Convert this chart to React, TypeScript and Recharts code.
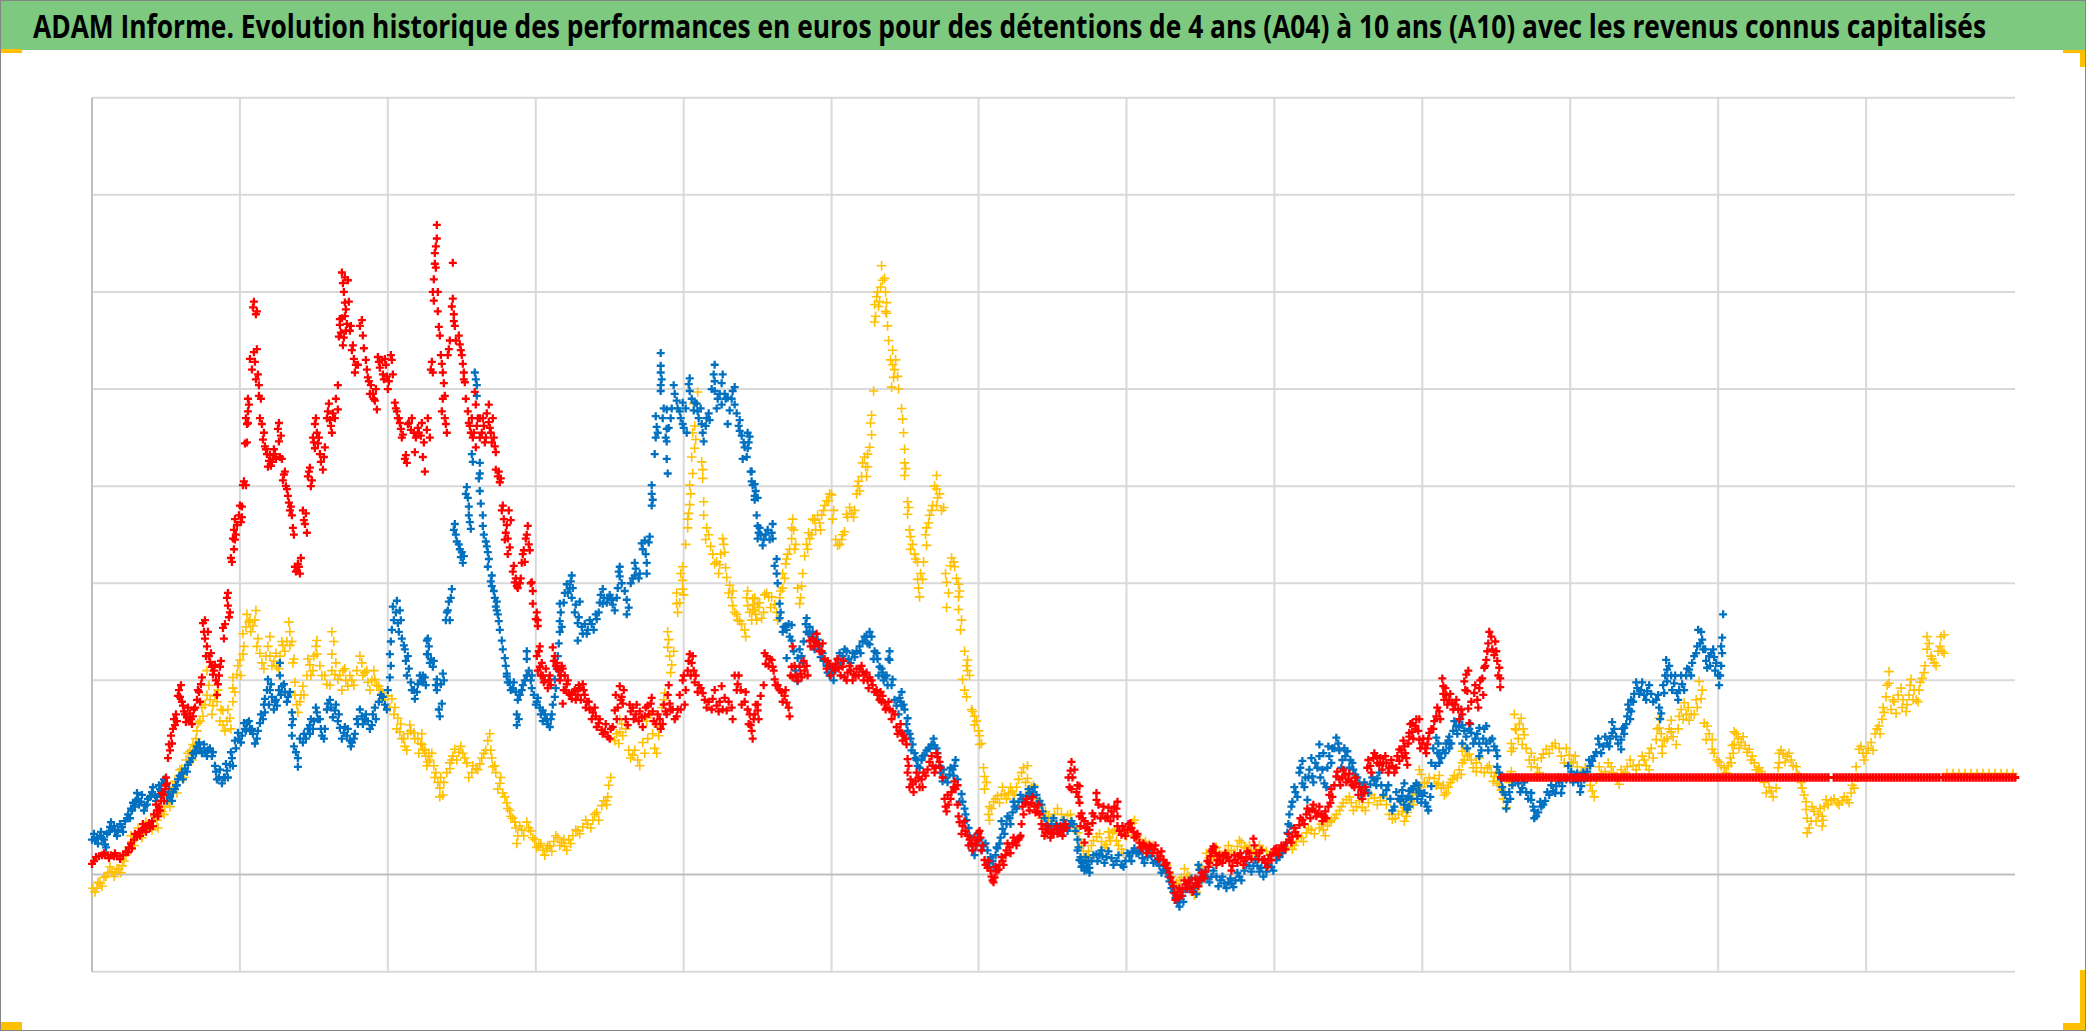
import React from "react";
import { ScatterChart, Scatter, XAxis, YAxis, CartesianGrid, ReferenceLine } from "recharts";

const TITLE = "ADAM Informe. Evolution historique des performances en euros pour des détentions de 4 ans (A04) à 10 ans (A10) avec les revenus connus capitalisés";

const yGrid = [-100, 200, 300, 400, 500, 600, 700, 800];
const xGrid = [148, 296, 444, 592, 740, 887, 1035, 1183, 1331, 1479, 1627, 1775];

const redEarly: number[][] = [
[0,11],[2,14],[4,18],[7,19],[10,20],[13,20],[16,20],[19,20],[22,19],[25,19],[28,19],[31,20],[34,24],[37,28],[39,32],[42,36],[45,39],[47,44],[50,46],[52,48],[55,50],[57,53],[60,55],[62,62],[65,66],[67,70],[69,76],[71,82],[73,88],[75,94],[74,100],
[76,120],[77,134],[79,143],[81,150],[83,154],[84,165],[87,190],[88,183],[91,174],[93,165],[95,162],[97,158],[99,160],[101,163],[103,172],[105,180],[107,188],[109,196],[110,203],[111,259],[113,243],[114,225],[116,250],[118,219],[120,214],[122,210],[124,200],[125,185],[127,205],[128,214],
[131,254],[132,243],[135,285],[136,277],[137,265],[139,326],[141,346],[142,355],[143,366],[144,350],[149,363],[150,379],[151,401],[154,401],[153,444],[155,464],[156,477],[157,484],[154,470],[161,584],[164,577],[158,531],[163,528],[165,541],[166,515],[167,504],[167,493],[170,464],[172,455],[173,441],[175,433],[177,426],[179,421],[181,428],[183,433],[186,459],[187,446],[188,430],[190,428],
[191,406],[193,415],[195,397],[197,383],[199,379],[200,370],[201,357],[203,317],[205,313],[207,317],[209,326],[211,375],[213,361],[215,352],[216,410],[218,419],[220,406],[221,450],[223,439],[223,464],[225,455],[226,444],[228,433],[231,417],[233,440],[236,477],[238,468],[240,455],[243,470],[246,479],[246,504],
[247,554],[248,566],[250,573],[252,553],[255,567],[250,620],[251,609],[252,600],[253,589],[254,582],[258,560],[260,540],[262,531],[263,517],[266,525],[270,571],[271,555],[272,542],[275,520],[277,508],[279,504],[281,495],[283,488],[285,479],[286,533],[288,522],[291,515],[293,531],[295,513],[297,508],[300,530],[303,486],[305,477],[307,470],[309,459],[311,453],[313,428],[315,424],[316,464],[319,458],[322,455],[323,435],[326,460],[329,452],[331,430],[333,415],[335,458],[338,450],
[340,528],[341,517],[342,613],[343,629],[344,647],[345,669],[342,591],[346,580],[347,564],[348,555],[350,526],[351,517],[352,506],[353,493],[350,477],[354,464],[355,455],[361,630],[357,541],[361,593],[362,577],[363,565],[368,546],[370,535],[371,526],[372,517],[373,507],[376,477],[378,462],[381,450],[383,497],[384,484],[385,462],[388,470],[390,455],[392,462],[394,450],[397,466],[399,455],[397,484],[402,450],[403,441],[404,417],[406,410],[408,404],
[410,375],[412,366],[414,352],[416,346],[418,337],[417,375],[421,312],[423,301],[425,297],[428,300],[430,321],[432,334],[434,346],[436,359],[438,334],[440,301],[441,292],[441,279],[444,263],[446,256],[447,230],
[446,210],[448,214],[451,205],[453,200],[456,192],[458,205],[461,234],[462,220],[465,218],[467,210],[469,205],[471,212],[471,176],[472,190],[475,196],[477,187],[480,181],[483,190],[486,185],[488,192],[491,196],[493,185],[495,178],[498,170],[501,167],[504,163],[507,156],[510,149],[513,147],[516,142],[519,150],[523,169],[525,160],[528,194],[530,183],[531,176],[536,154],[539,168],[541,172],[544,165],[547,158],[550,162],[553,163],[556,174],[559,176],[561,168],[564,155],[568,160],[571,155],[574,168],[576,185],[578,176],[581,170],[585,163],[588,185],[591,200],[593,175],[596,210],[598,227],[600,218],[602,210],[603,198],[607,195],[611,187],[615,172],[621,181],[625,174],[628,178],[630,194],[635,169],[640,172],[643,205],[646,196],[649,190],[653,178],[656,170],[658,165],[659,154],[661,140],[666,169],
[663,165],[666,175],[669,184],[673,228],[674,217],[678,222],[680,221],[681,214],[683,201],[686,195],[690,188],[693,184],[695,177],[698,163],[700,214],[701,203],[701,235],[704,205],[708,214],[710,203],[713,210],[716,205],[718,241],[721,243],[724,240],[727,237],[730,230],[733,222],[735,212],[738,217],[741,214],[744,217],[747,212],[751,214],[753,203],[756,208],[759,210],[762,206],[765,212],[768,212],[771,209],[773,206],[776,200],[778,203],[781,195],[783,188],[786,185],[789,188],[791,184],
[793,177],[795,172],[798,170],[801,168],[805,152],[808,148],[810,146],[812,143],[815,134],[816,119],[816,105],[818,90],[821,93],[824,96],[827,100],[830,98],[831,90],[834,102],[838,116],[841,112],[844,110],[846,121],[848,116],[853,78],[855,65],[857,72],[860,85],[863,96],[866,72],[866,92],[868,54],[871,50],[874,45],[876,40],[878,36],[881,25],[884,30],[887,43],[889,38],[891,30],[893,15],[896,7],[899,4],[901,-6],[903,-3],[905,3],[908,10],[911,14],[915,25],[918,28],[921,32],[924,34],[927,36],[928,38],[930,52],[931,70],[934,74],[937,72],[940,74],[943,70],[946,65],[948,62],[951,47],[954,43],[957,45],[960,43],[963,47],[966,42],[969,50],[972,45],[975,48],[978,90],[979,107],[980,116],[981,100],[986,92],[988,74],[990,63],[993,55],[996,52],[998,46],
[988,91],[988,60],[989,50],[993,33],[1001,63],[1001,53],[1005,84],[1005,77],[1011,63],[1014,58],[1017,69],[1020,65],[1023,70],[1026,75],[1026,60],[1026,50],[1030,41],[1033,46],[1036,46],[1039,53],[1042,44],[1045,39],[1048,33],[1051,27],[1054,29],[1057,27],[1060,29],[1063,26],[1066,22],[1069,19],[1072,15],[1075,12],[1078,2],[1081,-8],[1083,-19],[1085,-22],[1087,-24],[1089,-18],[1091,-15],[1094,-10],[1096,-9],[1099,-15],[1102,-12],[1105,-9],[1108,-6],[1111,-2],[1114,3],[1117,8],[1119,19],[1121,26],[1122,29],[1124,22],[1126,15],[1129,14],[1132,19],[1135,17],[1138,14],[1141,9],[1144,15],[1147,19],[1150,17],[1153,14],[1155,18],[1158,22],[1162,37],[1165,22],[1168,22],[1171,15],[1174,12],[1177,15],[1180,15],[1182,22],[1185,27],[1188,25],[1192,27],[1195,33],[1198,36],[1201,39],[1204,44],[1208,51],[1211,56],[1215,62],[1218,65],[1221,67],[1224,65],[1227,63],[1230,62],[1233,60],[1235,58],[1238,82],[1239,74],[1241,80],[1245,101],[1248,98],[1251,100],[1254,103],[1257,98],[1260,96],[1263,90],[1265,94],[1268,90],[1270,87],[1273,84],[1276,110],[1279,112],[1282,120],[1285,122],[1288,113],[1292,115],[1295,115],[1298,110],[1301,112],[1305,110],[1308,117],[1313,132],[1314,125],[1318,142],[1321,147],[1324,153],[1328,160],
[1308,129],[1311,122],[1316,113],[1318,146],[1321,156],[1324,150],[1328,139],[1331,135],[1334,130],[1336,134],[1338,146],[1342,150],[1345,163],[1348,168],[1351,202],[1352,194],[1353,180],[1355,185],[1358,180],[1361,177],[1364,175],[1367,170],[1371,165],[1373,199],[1375,206],[1376,189],[1377,171],[1378,156],[1383,187],[1386,180],[1388,192],[1391,202],[1393,213],[1395,221],[1397,238],[1400,245],[1403,226],[1405,230],[1408,213],[1409,202],[1409,193],
];

const redExtra: number[][] = [
[12,22],[17,17],[23,22],[28,16],[36,23],[40,27],[43,42],[48,40],[51,52],[54,44],[58,48],[61,50],[64,72],[66,60],[68,66],[70,84],[72,76],[74,92],
[78,128],[80,135],[82,160],[85,158],[86,184],[89,195],[90,178],[92,168],[94,157],[96,172],[98,166],[100,155],[102,170],[106,190],[108,178],[112,250],[113,262],[115,235],[117,225],[119,228],[121,206],[123,216],[126,196],[129,220],[133,258],[136,290],[138,270],[140,322],[142,335],[143,345],[145,360],[147,370],[148,380],[150,368],[152,405],[155,445],[156,490],[156,465],[160,520],[162,538],[162,590],[165,580],[164,510],[168,470],[169,490],[171,448],[174,438],[176,420],[178,432],[180,425],[182,438],[184,428],[187,465],[189,452],[192,412],[194,400],[196,390],[198,375],[202,350],[204,312],[206,320],[208,310],[212,365],[214,372],[217,415],[219,400],[222,445],[224,470],[227,450],[229,425],[232,430],[235,470],[237,485],[239,462],[241,475],[244,490],[248,572],[249,558],[251,545],[253,575],[254,560],[256,612],[253,615],[257,590],[259,565],[261,545],[264,525],[268,565],[274,530],[276,512],[278,495],[282,490],[284,500],[287,528],[290,530],[292,510],[294,525],[296,500],[299,535],[301,515],[304,480],[306,470],[308,465],[310,450],[314,432],[317,465],[320,470],[324,450],[327,455],[330,465],[332,445],[336,470],
[339,520],[341,600],[343,640],[345,655],[344,625],[346,600],[349,535],[351,490],[353,470],[356,535],[358,550],[360,585],[362,570],[364,550],[367,555],[369,540],[372,510],
[374,490],[377,465],[379,455],[380,470],[382,455],[384,440],[386,470],[388,450],[391,470],[393,445],[395,475],[398,460],[400,445],[401,470],[404,435],[407,415],[409,408],[411,380],[413,345],[415,360],[419,365],[416,330],[422,318],[424,305],[426,295],[429,305],[431,330],[433,322],[435,350],[437,340],[439,300],[445,270],[446,262],[448,235],[445,225],
[449,205],[450,218],[452,198],[454,212],[457,200],[459,195],[463,225],[464,215],[466,212],[468,200],[470,215],[473,205],[474,190],[476,200],[478,185],[481,188],[484,180],[487,195],[489,180],[492,190],[494,172],[497,178],[500,160],[503,172],[505,152],[508,160],[511,145],[514,155],[518,140],[521,152],[524,185],[526,172],[529,180],[532,190],[534,160],[538,175],[542,160],[545,175],[548,168],[551,152],[554,172],[557,165],[560,182],[562,158],[566,165],[569,150],[572,175],[575,165],[577,195],[579,170],[583,160],[586,170],[589,170],[592,205],[594,190],[597,220],[599,205],[601,225],[604,205],[606,188],[609,192],[613,180],[617,178],[620,170],[623,190],[627,168],[631,170],[633,182],[637,178],[641,160],[645,190],[647,205],[650,175],[654,188],[657,155],[660,148],[662,160],
[664,175],[667,160],[672,195],[675,225],[677,215],[682,210],[684,195],[688,190],[691,178],[694,190],[697,172],[699,205],[703,215],[706,200],[709,207],[712,220],[715,215],[719,235],[722,235],[725,248],[728,230],[731,238],[736,220],[739,205],[743,210],[746,222],[749,205],[752,220],[755,200],[758,215],[761,200],[764,205],[767,205],[770,215],[772,200],[775,208],[777,192],[780,200],[785,190],[788,180],[790,178],
[794,170],[797,178],[800,160],[803,165],[806,145],[809,155],[811,138],[814,140],[817,112],[819,98],[822,85],[825,105],[828,90],[832,105],[836,108],[840,122],[843,105],[845,125],[849,110],[851,100],[854,70],[856,82],[859,78],[862,90],[864,88],[867,60],[870,42],[873,55],[877,30],[880,32],[883,38],[886,35],[888,45],[890,25],[894,10],[897,14],[900,-2],[902,-8],[904,8],[907,5],[910,18],[912,10],[914,20],[916,32],[919,22],[922,38],[925,30],[929,40],[932,62],[935,78],[938,66],[941,80],[944,64],[947,72],[950,52],[953,40],[956,50],[959,38],[962,42],[965,50],[968,44],[971,40],[974,52],[977,100],[980,88],[983,108],[985,85],[987,80],[991,58],[994,48],[997,42],
[1003,60],[1007,72],[1009,58],[1012,70],[1016,60],[1019,55],[1022,60],[1025,68],[1028,45],[1031,50],[1034,40],[1037,52],[1040,48],[1043,38],[1046,42],[1049,28],[1052,32],[1055,22],[1058,30],[1061,22],[1064,30],[1067,16],[1070,24],[1073,10],[1076,7],[1079,-3],[1082,-12],[1084,-26],[1086,-18],[1088,-14],[1090,-22],[1093,-6],[1095,-14],[1098,-6],[1101,-18],[1104,-4],[1107,-12],[1110,2],[1113,-4],[1116,14],[1118,12],[1120,24],[1123,28],[1125,10],[1128,20],[1131,12],[1134,22],[1137,18],[1140,4],[1143,20],[1146,12],[1149,22],[1152,10],[1156,24],[1160,16],[1163,30],[1167,16],[1170,25],[1173,16],[1176,8],[1179,20],[1183,26],[1187,20],[1190,30],[1194,26],[1197,42],[1200,33],[1203,48],[1206,40],[1209,58],[1213,52],[1216,68],[1219,58],[1222,72],[1225,60],[1228,70],[1231,55],[1234,65],[1237,70],[1240,88],[1243,92],[1246,106],[1249,92],[1252,108],[1255,95],[1258,104],[1261,92],[1264,100],[1267,82],[1271,78],[1274,90],[1277,118],[1280,105],[1283,125],[1286,115],[1289,120],[1291,108],[1294,122],[1297,105],[1300,118],[1303,105],[1306,122],[1310,128],[1312,138],[1315,120],[1317,135],[1319,155],[1322,140],[1325,160],[1327,148],[1329,130],[1332,140],[1335,125],[1337,140],[1340,150],[1343,158],[1346,172],[1349,160],[1352,186],[1354,192],[1356,175],[1359,186],[1362,170],[1365,180],[1368,160],[1370,170],[1374,190],[1377,210],[1380,178],[1384,195],[1387,172],[1389,200],[1392,185],[1394,215],[1396,230],[1398,250],[1401,232],[1404,240],[1406,220],[1407,205],
];

const redFlat: number[] = [
1410,1413,1416,1419,1422,1425,1428,1431,1434,1437,1440,1443,1446,1449,1452,1455,1458,1461,1464,1467,1470,1473,1476,1479,1482,1485,1488,1491,1494,1497,1500,1503,1506,1509,1512,1515,1518,1521,1524,1527,1530,1533,1536,1539,1542,1545,1548,1551,1554,1557,1560,1563,1566,1569,1572,1575,1578,1581,1584,1587,1590,1593,1596,1599,1602,1605,1608,1611,1614,1617,1620,1623,1626,1629,1632,1635,1638,1641,1644,1647,1650,1653,1656,1659,1662,1665,1668,1671,1674,1677,1680,1683,1686,1689,1692,1695,1698,1701,1704,1707,1710,1713,1716,1719,1722,1725,1728,1731,1734,1737,
1743,1746,1749,1752,1755,1758,1761,1764,1767,1770,1773,1776,1779,1782,1785,1788,1791,1794,1797,1800,1803,1806,1809,1812,1815,1818,1821,1824,1827,1830,1833,1836,1839,1842,1845,1848,
1852,1855,1858,1861,1864,1867,1870,1873,1876,1879,1882,1885,1888,1891,1894,1897,1900,1903,1906,1909,1912,1915,1918,1921,1924,
];

const blueValues: number[][] = [
[0,36],[3,35],[5,38],[8,40],[10,37],[13,31],[15,42],[18,49],[20,47],[23,45],[26,46],[30,49],[33,55],[36,62],[39,68],[41,74],[44,76],[46,78],[49,75],[53,71],[56,78],[60,85],[63,82],[65,80],[68,88],[70,94],[73,85],[76,82],[78,80],[81,85],[84,92],[86,98],[90,104],[93,109],[96,113],[100,120],[103,127],[105,132],[108,130],[113,127],[116,128],[121,126],[124,106],[127,100],[130,94],[133,100],[135,107],[138,113],[140,120],[143,138],[147,140],[150,143],[153,150],[155,156],[158,150],[161,145],[165,140],[168,156],[171,160],[173,167],[173,181],[176,201],[178,190],[180,183],[183,178],[185,174],[188,205],[188,218],[190,194],[193,188],[196,183],[200,167],[200,154],[200,143],[202,132],[206,120],[206,111],[211,136],[214,140],[218,154],[218,145],[222,158],[225,167],[228,160],[230,143],[233,150],[236,176],[239,172],[243,169],[246,158],[248,151],[252,146],[255,143],[258,138],[260,136],[263,145],[266,155],[270,163],[273,160],[276,158],[280,154],[283,172],[287,178],[291,183],[295,170],[298,203],[298,227],[300,252],[301,276],[304,270],[306,259],[308,272],[310,243],[313,232],[316,225],[315,205],[320,190],[323,181],[326,196],[329,200],[333,203],[335,241],[335,227],
[331,198],[336,227],[336,243],[338,218],[341,214],[345,201],[345,190],[351,207],[350,176],[348,163],[355,270],[357,281],[360,294],[358,262],[363,361],[365,343],[368,335],[370,332],[371,321],[375,399],[376,388],[377,379],[378,363],[380,433],[383,517],[385,504],[385,493],[388,424],[388,413],[388,395],[391,370],[391,359],[394,343],[396,332],[396,317],[400,308],[400,297],[403,285],[405,281],[405,272],[407,261],[410,241],[413,223],[415,207],[415,204],[418,198],[421,192],[424,188],[428,185],[425,165],[425,154],[431,195],[435,205],[435,230],[435,222],[440,205],[440,192],[445,178],[448,172],[451,169],[451,158],[455,160],[458,152],[460,165],[463,183],[463,201],[466,225],[468,250],[468,261],[468,279],[472,280],[475,299],[478,295],[480,308],[480,285],[483,270],[486,259],[488,281],[486,241],[491,248],[496,252],[500,258],[505,263],[508,280],[511,294],[511,279],[516,285],[520,283],[523,272],[526,295],[528,307],[528,317],[535,283],[535,268],[539,300],[543,308],[543,321],[548,310],[555,321],[555,310],[550,341],[553,344],[558,348],[560,401],[560,392],[560,380],[563,433],[564,450],[564,472],[565,461],[569,537],[569,524],[569,517],[569,504],[569,498],[571,470],[575,479],[575,459],[575,446],[575,428],[576,413],[579,470],[582,504],[585,488],[588,477],[591,464],[595,455],[591,486],[598,511],[598,498],[603,486],[606,477],[610,464],[612,446],[615,470],[618,468],[623,525],[623,508],[623,498],[626,490],[630,484],[630,506],[633,495],[636,464],[636,491],[640,490],[643,502],[643,484],[648,468],[648,457],[652,445],[656,455],[656,439],[651,428],[659,415],[661,401],[664,395],[666,388],[666,359],[666,346],
[658,451],[660,415],[663,402],[663,386],[668,357],[671,339],[674,350],[678,345],[681,361],[681,346],[685,325],[685,310],[688,279],[688,264],[691,250],[694,256],[697,258],[700,257],[700,241],[695,223],[706,199],[706,223],[710,225],[712,240],[715,264],[715,250],[718,255],[721,250],[724,240],[727,235],[731,228],[735,215],[738,205],[741,208],[744,214],[748,228],[751,225],[755,230],[759,218],[763,224],[768,235],[771,240],[775,245],[778,250],[778,237],[783,230],[786,222],[788,214],[791,208],[793,203],[796,195],[798,230],[798,221],[801,201],[805,174],[808,182],[810,188],[810,174],[813,170],[816,161],[816,148],[819,140],[821,134],[824,120],[826,112],[830,118],[833,123],[837,130],[840,134],[843,133],[845,130],[848,112],[851,96],[854,100],[858,103],[861,108],[863,112],[866,98],[870,83],[873,68],[875,56],[878,40],[881,25],[885,30],[888,36],[892,30],[896,25],[899,18],[901,14],[904,20],[906,27],[909,38],[911,47],[915,52],[918,58],[921,64],[923,70],[927,75],[931,78],[935,81],[938,84],[941,85],[945,82],[948,76],[951,65],[955,52],[960,52],[965,52],[970,48],[974,50],[978,50],[982,52],[986,25],[986,36],[989,18],[991,9],[995,8],[998,7],
[988,15],[992,12],[996,7],[1000,14],[1005,21],[1008,20],[1011,19],[1015,18],[1020,17],[1025,14],[1030,10],[1034,14],[1038,19],[1041,24],[1043,27],[1047,22],[1051,17],[1056,18],[1060,19],[1064,14],[1068,9],[1072,5],[1075,3],[1078,-7],[1082,-18],[1086,-29],[1089,-25],[1091,-22],[1094,-15],[1098,-9],[1103,-14],[1106,-5],[1108,5],[1112,0],[1116,-3],[1120,-2],[1125,-2],[1129,-6],[1133,-9],[1137,-8],[1140,-9],[1144,-6],[1148,-2],[1153,4],[1158,9],[1162,9],[1166,9],[1170,7],[1175,3],[1180,8],[1185,15],[1188,18],[1191,22],[1196,43],[1198,62],[1199,50],[1201,75],[1204,85],[1208,105],[1211,117],[1211,94],[1214,100],[1216,77],[1218,108],[1221,101],[1224,115],[1228,134],[1228,122],[1231,108],[1233,94],[1236,110],[1238,122],[1241,130],[1245,141],[1248,128],[1251,118],[1254,122],[1256,127],[1259,118],[1261,115],[1264,103],[1268,94],[1271,90],[1275,87],[1279,93],[1283,97],[1286,99],[1290,92],[1295,87],[1299,78],[1303,70],[1307,78],[1311,87],[1315,78],[1318,70],[1323,91],[1328,84],
[1311,81],[1316,67],[1320,78],[1325,94],[1328,86],[1331,81],[1334,74],[1336,70],[1340,91],[1340,115],[1345,141],[1346,125],[1348,125],[1348,115],[1352,128],[1355,135],[1358,142],[1358,130],[1362,148],[1365,153],[1368,152],[1371,154],[1371,135],[1375,142],[1378,150],[1380,146],[1384,140],[1388,151],[1388,135],[1388,122],[1392,140],[1395,153],[1395,135],[1399,138],[1403,132],[1406,122],[1406,111],[1410,98],[1411,90],[1414,82],[1416,75],[1419,78],[1423,98],[1427,94],[1431,89],[1435,85],[1440,84],[1440,77],[1443,58],[1443,66],[1447,64],[1450,70],[1454,76],[1458,82],[1462,86],[1465,91],[1468,95],[1471,91],[1475,98],[1480,106],[1484,102],[1487,96],[1490,91],[1493,98],[1496,106],[1499,112],[1501,117],[1505,126],[1508,134],[1512,132],[1516,135],[1519,140],[1521,146],[1521,157],[1525,142],[1530,139],[1530,129],[1533,145],[1536,163],[1533,151],[1538,170],[1540,180],[1540,168],[1543,186],[1546,192],[1550,190],[1553,185],[1556,189],[1560,186],[1565,180],[1568,172],[1570,166],[1573,187],[1575,221],[1576,211],[1576,199],[1580,205],[1583,197],[1586,187],[1588,190],[1591,196],[1595,205],[1598,211],[1601,218],[1605,228],[1607,252],[1609,238],[1611,242],[1614,232],[1616,213],[1618,225],[1620,228],[1623,224],[1625,218],[1628,195],[1629,205],[1631,228],[1631,244],[1632,268],
];

const blueExtra: number[][] = [
[2,42],[6,32],[9,44],[12,36],[14,28],[17,44],[19,54],[22,50],[25,40],[28,52],[31,44],[35,58],[38,58],[40,66],[43,70],[45,84],[47,72],[50,82],[52,66],[55,72],[58,80],[61,90],[64,76],[67,92],[69,86],[72,98],[75,76],[77,88],[80,76],[83,88],[85,92],[88,102],[91,98],[95,106],[98,116],[101,125],[104,125],[107,136],[110,125],[112,134],[115,122],[118,130],[120,122],[123,112],[125,98],[128,108],[132,100],[134,114],[136,100],[139,126],[141,112],[144,130],[146,146],[149,136],[152,156],[154,148],[157,158],[160,150],[163,135],[166,148],[169,165],[172,175],[175,190],[177,175],[179,196],[182,170],[184,180],[187,190],[189,185],[192,196],[195,178],[198,188],[201,160],[204,126],[208,140],[212,145],[216,150],[219,160],[221,150],[224,172],[226,160],[229,150],[232,140],[235,170],[238,180],[241,162],[244,175],[247,165],[250,140],[253,152],[256,150],[259,132],[262,140],[265,160],[268,170],[271,155],[274,165],[278,150],[281,165],[284,160],[289,185],[293,175],[296,190],[299,215],[299,240],[302,262],[305,282],[307,250],[309,262],[312,236],[314,220],[317,212],[319,198],[322,190],[325,188],[328,205],[331,205],[334,195],[337,235],
[339,222],[342,220],[344,195],[347,170],[349,196],[352,200],[354,262],[356,272],[359,285],[362,355],[364,350],[367,340],[369,327],[372,328],[374,392],[377,370],[379,356],[381,425],[384,510],[387,408],[389,382],[392,350],[395,338],[397,325],[399,302],[402,292],[404,276],[406,268],[408,252],[411,232],[414,215],[416,198],[419,190],[422,198],[426,180],[427,160],[430,190],[433,200],[437,210],[439,200],[442,185],[444,175],[446,182],[449,165],[453,165],[456,155],[459,160],[461,175],[464,192],[465,212],[467,238],[469,270],[470,255],[473,290],[476,290],[479,302],[481,295],[484,278],[487,265],[490,255],[493,258],[495,248],[498,262],[502,252],[504,268],[507,270],[509,288],[512,285],[515,280],[518,288],[521,278],[525,285],[527,312],[530,300],[533,292],[537,275],[541,305],[544,315],[547,305],[551,335],[554,330],[557,342],[561,386],[566,455],[570,510],[572,480],[574,450],[577,460],[580,480],[583,495],[586,480],[589,470],[592,460],[594,480],[597,505],[600,490],[602,478],[605,485],[607,470],[609,480],[611,455],[614,462],[617,475],[620,500],[622,515],[625,480],[628,495],[631,515],[634,490],[638,478],[641,498],[645,475],[647,462],[650,452],[653,440],[655,430],[657,445],[660,405],[663,390],[665,370],
[667,352],[669,350],[672,345],[676,355],[680,352],[683,318],[686,300],[689,270],[692,255],[695,252],[698,245],[702,230],[704,210],[708,232],[711,218],[714,258],[717,248],[720,245],[723,232],[726,242],[729,224],[732,220],[736,208],[739,212],[742,200],[746,222],[749,218],[753,232],[757,222],[761,228],[765,230],[769,228],[773,245],[776,238],[780,245],[782,222],[785,228],[787,205],[790,212],[792,200],[795,205],[797,222],[800,195],[803,180],[807,165],[809,178],[812,175],[815,155],[818,145],[820,128],[823,125],[825,118],[828,110],[831,122],[835,128],[838,130],[842,140],[846,125],[849,105],[852,108],[856,95],[859,110],[862,102],[864,118],[868,75],[871,75],[874,62],[877,48],[880,32],[883,20],[886,42],[890,25],[894,32],[898,12],[902,8],[905,28],[908,32],[910,55],[913,42],[916,60],[919,52],[922,75],[925,68],[929,82],[933,75],[937,88],[940,80],[943,90],[946,72],[950,72],[953,58],[957,48],[962,58],[967,46],[972,56],[976,45],[980,55],[984,45],[987,28],[990,14],[993,4],[997,14],
[990,8],[994,18],[998,2],[1002,20],[1006,14],[1010,25],[1013,12],[1017,24],[1022,10],[1027,20],[1032,8],[1036,22],[1040,14],[1045,22],[1049,24],[1053,12],[1058,25],[1062,12],[1066,14],[1070,2],[1074,10],[1077,-2],[1080,-14],[1084,-24],[1088,-33],[1092,-28],[1096,-15],[1100,-4],[1105,-20],[1107,10],[1110,-6],[1114,3],[1118,-8],[1122,4],[1127,-12],[1131,-2],[1135,-14],[1139,-4],[1142,-13],[1146,2],[1150,-6],[1155,10],[1160,3],[1164,15],[1168,3],[1172,-2],[1177,10],[1182,4],[1187,20],[1193,30],[1197,52],[1200,70],[1203,90],[1206,80],[1209,110],[1213,90],[1217,100],[1220,120],[1222,95],[1226,110],[1229,100],[1232,125],[1235,90],[1237,132],[1240,115],[1243,130],[1247,135],[1250,110],[1253,130],[1258,110],[1262,108],[1266,100],[1270,82],[1273,95],[1277,84],[1281,100],[1285,92],[1288,105],[1292,82],[1297,92],[1301,66],[1305,85],[1309,76],[1313,94],[1317,80],[1320,88],[1326,78],
[1313,72],[1318,86],[1322,88],[1327,92],[1330,74],[1333,84],[1337,66],[1339,80],[1342,130],[1344,112],[1347,135],[1350,120],[1354,125],[1357,138],[1360,135],[1363,158],[1366,145],[1369,160],[1373,148],[1376,130],[1379,155],[1382,135],[1386,145],[1390,128],[1393,150],[1397,128],[1401,140],[1405,128],[1408,105],[1412,85],[1415,68],[1418,85],[1421,92],[1425,100],[1429,85],[1433,95],[1437,78],[1442,70],[1445,60],[1449,75],[1452,72],[1456,85],[1460,92],[1464,84],[1467,100],[1470,84],[1473,100],[1477,112],[1482,95],[1486,104],[1489,85],[1492,105],[1495,100],[1498,118],[1503,122],[1507,140],[1510,125],[1514,142],[1518,132],[1523,150],[1527,135],[1531,150],[1535,155],[1537,175],[1539,160],[1542,178],[1545,198],[1548,186],[1551,198],[1555,180],[1558,195],[1562,178],[1567,185],[1569,160],[1572,195],[1574,205],[1578,215],[1581,190],[1584,205],[1587,180],[1590,205],[1593,190],[1596,212],[1600,205],[1603,225],[1606,235],[1610,250],[1612,232],[1615,220],[1619,215],[1622,232],[1624,210],[1627,205],[1630,215],[1630,235],
];

const yellowValues: number[][] = [
[3,-18],[5,-14],[8,-9],[12,-3],[16,2],[20,3],[23,2],[27,6],[30,9],[34,20],[37,28],[40,34],[44,38],[48,42],[52,45],[57,50],[65,56],[67,60],[70,65],[73,70],[76,74],[80,86],[83,96],[87,102],[90,109],[94,118],[98,127],[101,134],[104,140],[106,156],[111,163],[115,185],[115,210],[118,180],[121,174],[126,190],[129,170],[131,169],[131,154],[135,158],[138,161],[141,178],[141,192],[141,203],[146,215],[148,221],[151,248],[151,227],[155,268],[158,262],[161,256],[164,272],[166,243],[170,218],[174,225],[178,245],[178,225],[182,220],[185,214],[188,225],[191,236],[195,240],[198,250],[198,236],[201,218],[203,198],[203,185],[206,167],[209,185],[211,194],[215,205],[218,216],[221,210],[225,241],[225,227],[230,205],[235,196],[240,250],[240,227],[240,210],[243,206],[246,201],[251,210],[254,200],[256,194],[260,200],[265,210],[270,218],[273,208],[276,198],[280,200],[283,201],[287,194],[291,187],[296,184],[300,181],[303,172],[306,161],[308,147],[310,140],[313,132],[316,145],[318,154],[322,146],[326,140],[329,135],[331,129],[336,116],
[330,134],[334,122],[338,118],[342,112],[344,105],[348,89],[348,80],[352,95],[358,109],[360,118],[363,129],[367,126],[371,125],[375,115],[380,105],[384,109],[388,114],[392,125],[396,138],[399,128],[401,111],[404,105],[408,94],[411,84],[415,74],[418,66],[421,58],[424,48],[426,40],[430,46],[435,54],[439,45],[443,36],[447,30],[451,25],[455,27],[458,29],[462,34],[466,38],[470,33],[473,29],[477,36],[481,40],[486,45],[491,49],[496,52],[501,56],[505,64],[510,71],[514,76],[516,80],[519,100],
[523,138],[528,147],[528,160],[531,143],[537,128],[541,123],[546,118],[551,136],[561,145],[555,158],[565,125],[567,143],[570,172],[573,187],[576,250],[576,234],[580,216],[578,225],[585,290],[585,279],[588,280],[591,317],[591,294],[591,303],[596,366],[596,357],[598,381],[598,401],[601,413],[601,455],[603,462],[603,439],[606,497],[611,417],[611,408],[612,384],[615,357],[617,350],[621,330],[625,322],[628,319],[631,346],[633,332],[635,306],[638,298],[641,292],[641,277],[645,268],[648,261],[653,252],[656,292],[656,277],[663,285],[663,272],[660,262],[666,280],
[661,284],[661,273],[664,268],[670,264],[673,288],[677,286],[680,286],[685,270],[688,285],[691,295],[691,310],[694,320],[696,330],[700,346],[700,357],[701,366],[703,335],[708,279],[710,297],[713,328],[716,335],[718,346],[721,366],[724,355],[728,362],[730,370],[733,380],[737,385],[740,391],[741,366],[746,339],[750,345],[753,353],[755,371],[760,372],[763,375],[766,400],[768,395],[771,424],[774,420],[776,433],[776,420],[780,453],[780,473],[782,498],[783,587],[783,569],[786,600],[788,590],[790,627],[793,614],[795,589],[795,578],[796,565],[801,540],[801,525],[800,502],[803,520],[806,513],[811,469],[813,438],[813,424],[813,411],[816,384],[816,371],[819,348],[819,335],[823,330],[826,322],[826,304],[828,286],[831,304],[835,339],[835,357],[838,370],[841,380],[845,411],[845,397],[845,380],[850,375],[855,301],[855,275],[860,326],[863,317],[867,299],[867,286],[867,273],[869,252],[876,221],[876,210],[871,201],[873,190],[875,183],[880,170],[883,163],[883,154],[888,143],[888,134],[893,101],[893,88],[898,70],[898,56],[902,75],[906,81],[910,82],[913,83],[917,84],[921,85],[925,90],[930,105],[936,112],[936,99],[940,90],[945,78],[948,70],[951,63],[957,60],[963,62],[970,62],[976,61],[981,52],[986,43],[990,30],[995,18],
[995,19],[1000,30],[1005,39],[1010,34],[1015,31],[1018,38],[1021,43],[1025,35],[1030,26],[1035,40],[1041,53],[1046,40],[1050,32],[1058,31],[1066,22],[1075,10],[1080,-2],[1085,-9],[1090,-3],[1096,0],[1100,-10],[1103,-21],[1108,-8],[1112,5],[1118,17],[1123,20],[1128,22],[1134,24],[1140,25],[1146,29],[1150,33],[1155,27],[1160,24],[1165,25],[1171,26],[1180,22],[1190,24],[1201,26],[1205,34],[1210,38],[1215,43],[1220,46],[1228,48],[1232,46],[1236,50],[1240,56],[1245,62],[1250,70],[1255,77],[1260,74],[1265,70],[1271,69],[1277,74],[1283,79],[1289,76],[1295,72],[1301,57],[1307,62],[1313,69],[1319,76],[1325,82],
[1311,65],[1315,60],[1320,75],[1325,88],[1330,103],[1330,90],[1336,94],[1343,99],[1347,94],[1350,89],[1353,82],[1357,90],[1361,98],[1366,100],[1370,103],[1371,115],[1371,127],[1376,122],[1380,118],[1385,115],[1385,106],[1390,110],[1396,110],[1400,105],[1403,101],[1406,94],[1410,87],[1415,69],[1420,106],[1420,127],[1420,135],[1423,165],[1425,149],[1427,140],[1430,161],[1433,144],[1431,134],[1440,125],[1440,111],[1446,110],[1450,120],[1455,129],[1461,132],[1468,130],[1473,115],[1478,123],[1482,116],[1486,111],[1492,106],[1496,100],[1501,86],[1505,98],[1508,111],[1514,106],[1520,111],[1525,100],[1528,93],[1532,102],[1536,111],[1542,112],[1548,113],[1553,118],[1558,125],[1558,108],[1565,139],[1568,161],[1568,151],[1571,132],[1571,125],[1576,140],[1580,159],[1580,147],[1585,134],[1588,163],[1593,177],[1595,165],[1598,159],[1603,165],[1608,199],[1610,181],[1613,156],[1616,153],[1615,139],[1621,139],[1621,129],[1626,118],[1630,112],[1633,110],[1637,112],[1640,115],[1643,147],[1643,134],
[1641,133],[1647,140],[1650,136],[1654,133],[1658,129],[1661,122],[1663,115],[1667,108],[1670,106],[1673,95],[1675,84],[1680,86],[1685,89],[1688,125],[1688,115],[1692,124],[1696,122],[1700,118],[1705,111],[1708,102],[1711,89],[1715,75],[1715,67],[1716,58],[1716,43],[1720,55],[1723,65],[1727,62],[1731,60],[1731,50],[1733,70],[1735,77],[1740,76],[1746,74],[1751,76],[1756,77],[1760,84],[1763,89],[1765,111],[1768,129],[1772,125],[1775,125],[1780,136],[1784,145],[1788,153],[1791,160],[1793,167],[1795,183],[1798,209],[1798,197],[1802,180],[1805,166],[1810,192],[1812,180],[1815,168],[1818,185],[1820,201],[1823,190],[1825,180],[1828,190],[1831,202],[1834,215],[1836,245],[1836,232],[1840,225],[1843,218],[1847,230],[1850,245],[1853,247],[1853,228],
[1856,104],[1862,104],[1868,104],[1874,104],[1880,104],[1886,104],[1892,104],[1898,104],[1904,104],[1910,104],[1916,104],[1922,104],
];

const yellowExtra: number[][] = [
[1,-14],[6,-8],[10,-12],[14,-2],[18,8],[22,-2],[25,6],[29,2],[32,14],[36,24],[39,40],[42,30],[46,48],[50,38],[54,54],[60,46],[63,60],[66,48],[69,70],[72,62],[75,80],[78,70],[81,90],[85,84],[88,108],[92,100],[96,125],[100,118],[103,132],[105,148],[108,158],[110,172],[113,175],[117,195],[120,165],[123,184],[125,178],[128,158],[133,148],[136,170],[139,150],[143,188],[145,206],[149,205],[152,235],[154,255],[157,260],[159,250],[163,262],[165,235],[168,228],[172,212],[176,235],[180,215],[184,228],[187,212],[190,240],[193,230],[197,260],[200,240],[202,222],[205,175],[208,178],[212,185],[216,222],[219,205],[222,225],[224,235],[228,215],[233,205],[238,195],[242,240],[244,218],[248,205],[250,190],[253,212],[258,205],[262,195],[268,225],[271,205],[275,210],[278,190],[282,210],[285,195],[289,190],[293,180],[298,172],[302,165],[305,150],[309,155],[312,140],[315,128],[319,148],[323,140],[327,125],[330,145],[333,128],[337,125],
[335,112],[340,125],[343,100],[346,95],[349,100],[351,82],[355,105],[358,115],[361,122],[365,118],[369,132],[373,120],[377,100],[381,112],[386,108],[390,120],[394,128],[398,145],[400,120],[403,112],[406,88],[409,100],[413,80],[416,68],[419,60],[423,54],[425,32],[428,50],[432,40],[437,48],[441,38],[445,28],[449,32],[453,20],[456,30],[460,24],[464,40],[468,30],[472,36],[475,25],[479,32],[484,46],[488,42],[494,56],[499,48],[503,62],[507,56],[512,76],[515,72],[517,92],
[525,145],[527,135],[530,155],[534,150],[539,120],[543,128],[548,112],[553,125],[556,140],[559,165],[563,130],[566,152],[572,180],[577,242],[579,208],[582,230],[586,270],[589,310],[592,288],[594,340],[597,372],[599,392],[600,430],[602,485],[604,448],[610,425],[612,370],[614,345],[619,338],[623,320],[627,310],[629,330],[632,340],[634,316],[637,290],[640,285],[643,270],[646,262],[650,258],[654,245],[655,285],[658,270],[662,278],[667,275],
[665,262],[668,280],[672,270],[675,290],[679,275],[683,278],[686,262],[689,292],[693,305],[695,325],[698,335],[702,355],[704,340],[706,295],[709,285],[711,310],[715,340],[717,352],[720,350],[723,365],[726,370],[729,355],[732,375],[735,385],[738,392],[742,375],[744,345],[748,340],[751,350],[756,368],[758,378],[762,368],[765,392],[767,405],[770,410],[773,430],[775,410],[778,440],[779,465],[784,575],[785,595],[787,585],[789,605],[791,612],[794,600],[794,580],[797,550],[799,530],[802,512],[804,530],[807,500],[810,480],[812,455],[814,418],[817,378],[818,355],[821,340],[824,325],[827,295],[829,310],[832,322],[834,350],[837,362],[840,375],[843,400],[846,388],[848,392],[852,378],[854,310],[857,290],[859,318],[862,322],[865,305],[868,292],[870,262],[873,230],[875,215],[878,205],[881,168],[885,158],[887,148],[890,135],[892,110],[895,95],[897,62],[900,68],[904,78],[908,74],[911,90],[915,78],[919,90],[923,82],[927,98],[932,110],[934,95],[938,85],[942,92],[946,72],[950,58],[954,65],[960,55],[966,68],[973,56],[979,62],[984,48],[988,36],[992,24],
[997,24],[1002,35],[1008,42],[1013,28],[1017,44],[1019,35],[1023,46],[1027,30],[1032,22],[1037,46],[1040,44],[1043,56],[1048,36],[1054,34],[1062,30],[1070,15],[1077,3],[1083,-12],[1088,-6],[1093,6],[1098,-2],[1101,-14],[1105,-18],[1110,8],[1115,22],[1120,14],[1125,28],[1130,18],[1137,30],[1143,22],[1148,35],[1153,28],[1158,30],[1163,18],[1168,30],[1175,24],[1185,20],[1195,28],[1203,30],[1207,40],[1212,34],[1217,48],[1223,42],[1230,52],[1234,40],[1238,54],[1243,58],[1248,66],[1252,74],[1258,80],[1262,66],[1268,76],[1274,66],[1280,82],[1286,72],[1292,80],[1298,62],[1304,58],[1310,75],[1316,64],[1322,84],
[1313,55],[1318,80],[1322,72],[1328,108],[1333,95],[1338,100],[1345,92],[1348,102],[1352,92],[1355,84],[1359,95],[1363,102],[1368,108],[1373,118],[1374,130],[1378,124],[1382,110],[1388,120],[1393,105],[1398,112],[1402,96],[1405,105],[1408,92],[1412,78],[1418,95],[1422,130],[1424,150],[1428,155],[1432,150],[1435,130],[1438,118],[1443,118],[1448,105],[1452,124],[1458,125],[1464,135],[1470,122],[1475,130],[1480,115],[1484,122],[1490,104],[1494,110],[1499,92],[1503,80],[1510,104],[1517,115],[1522,105],[1526,98],[1530,108],[1534,105],[1539,118],[1545,108],[1551,122],[1555,112],[1560,130],[1562,120],[1566,150],[1570,145],[1573,138],[1578,150],[1582,142],[1587,150],[1590,170],[1592,160],[1597,172],[1600,165],[1605,180],[1606,172],[1611,190],[1618,145],[1623,125],[1628,116],[1635,105],[1639,120],[1642,125],
[1645,145],[1648,130],[1652,142],[1656,126],[1660,118],[1665,108],[1668,110],[1672,100],[1678,90],[1682,80],[1687,110],[1690,128],[1694,116],[1698,125],[1702,112],[1706,104],[1710,95],[1713,82],[1718,48],[1721,70],[1725,55],[1729,68],[1732,56],[1737,72],[1743,78],[1748,72],[1753,80],[1758,74],[1761,92],[1766,100],[1770,132],[1773,118],[1777,130],[1782,128],[1786,150],[1789,145],[1792,172],[1796,195],[1800,170],[1803,178],[1807,185],[1811,172],[1816,175],[1819,195],[1822,180],[1827,178],[1829,198],[1833,208],[1838,238],[1841,222],[1845,215],[1849,235],[1851,230],
];

const toRows = (pairs: number[][]) => pairs.map(([x, y]) => ({ x, y }));
const yellowData = toRows([...yellowValues, ...yellowExtra]);
const blueData = toRows([...blueValues, ...blueExtra]);
const redData = toRows([...redEarly, ...redExtra]);
const redFlatData = redFlat.map((x) => ({ x, y: 100 }));

const plus = (color: string, half: number, weight: number) => (props: any) => {
  const { cx, cy } = props;
  return (
    <path
      d={`M${cx - half} ${cy}H${cx + half}M${cx} ${cy - half}V${cy + half}`}
      stroke={color}
      strokeWidth={weight}
      fill="none"
    />
  );
};

const bracket = (style: React.CSSProperties) => (
  <div style={{ position: "absolute", background: "#FFC000", ...style }} />
);

export default function App() {
  return (
    <div style={{ position: "absolute", left: 0, top: 0, width: 2086, height: 1031, overflow: "hidden", background: "#fff" }}>
      <div style={{ position: "absolute", left: 0, top: 0, width: 2084, height: 1029, border: "1px solid #858585" }} />
      <div style={{ position: "absolute", left: 1, top: 1, width: 2084, height: 49, background: "#7DC97F" }} />
      <svg width={2086} height={50} style={{ position: "absolute", left: 0, top: 0 }}>
        <text x={33} y={38} fontFamily="'Open Sans', sans-serif" fontWeight={700} fontSize={32} fill="#000" textLength={1953} lengthAdjust="spacingAndGlyphs">
          {TITLE}
        </text>
      </svg>
      {bracket({ left: 1, top: 49, width: 21, height: 4 })}
      {bracket({ left: 2063, top: 50, width: 22, height: 3 })}
      {bracket({ left: 2080, top: 50, width: 5, height: 17 })}
      {bracket({ left: 1, top: 1022, width: 21, height: 8 })}
      {bracket({ left: 2063, top: 1023, width: 22, height: 7 })}
      {bracket({ left: 2080, top: 970, width: 5, height: 60 })}
      <div style={{ position: "absolute", left: 0, top: 0 }}>
        <ScatterChart width={2086} height={1031} margin={{ top: 97.7, left: 92, right: 71, bottom: 59.3 }}>
          <CartesianGrid stroke="#D9D9D9" strokeWidth={2} horizontalValues={yGrid} verticalValues={xGrid} />
          <XAxis type="number" dataKey="x" domain={[0, 1923]} hide />
          <YAxis type="number" dataKey="y" domain={[-100, 800]} hide />
          <ReferenceLine y={0} stroke="#BFBFBF" strokeWidth={2} />
          <ReferenceLine x={0} stroke="#BFBFBF" strokeWidth={2} />
          <Scatter data={yellowData} isAnimationActive={false} shape={plus("#FFC000", 4.8, 1.6)} />
          <Scatter data={blueData} isAnimationActive={false} shape={plus("#0070C0", 4, 2.3)} />
          <Scatter data={redData} isAnimationActive={false} shape={plus("#FF0000", 4, 2.3)} />
          <Scatter data={redFlatData} isAnimationActive={false} shape={plus("#FF0000", 4.3, 3)} />
        </ScatterChart>
      </div>
    </div>
  );
}
